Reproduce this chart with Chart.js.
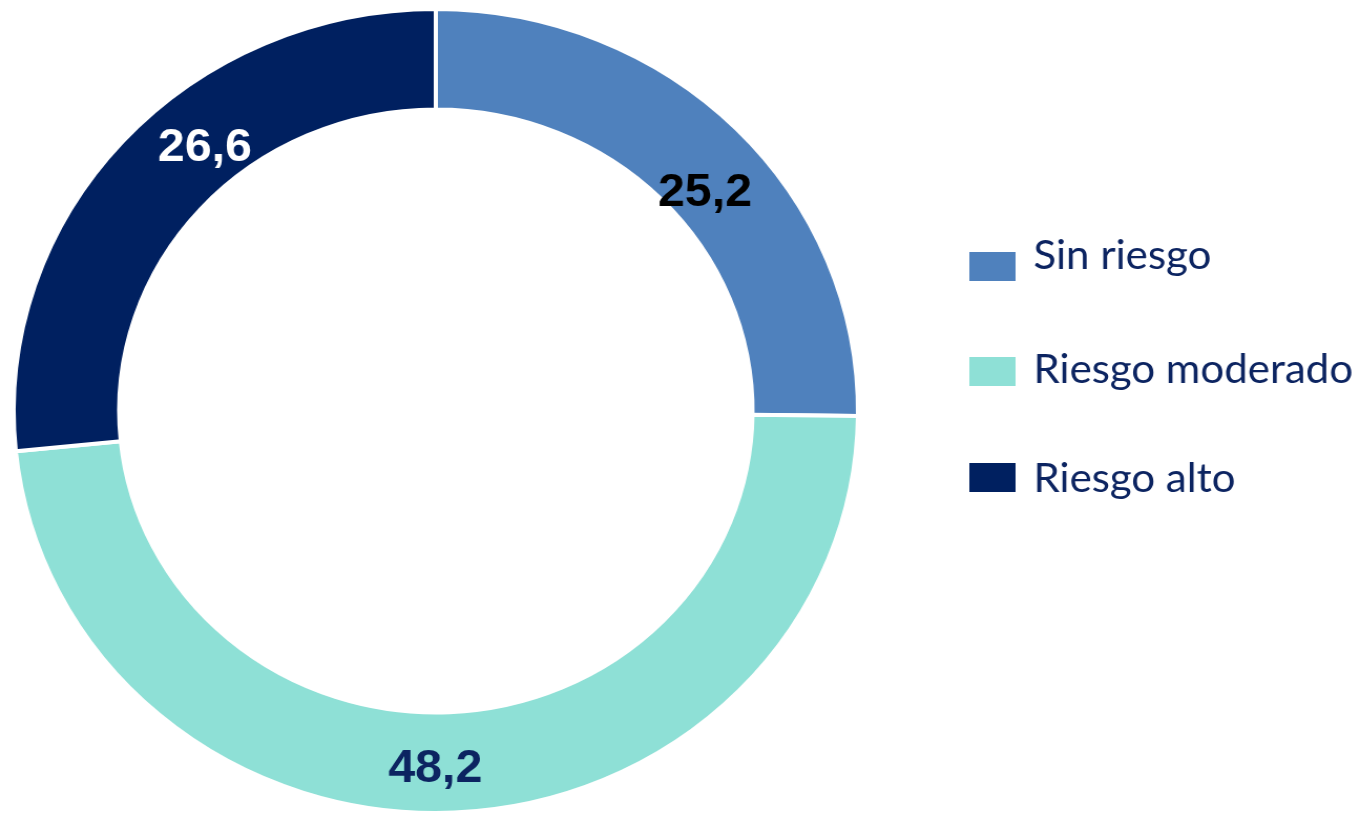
<!DOCTYPE html>
<html>
<head>
<meta charset="utf-8">
<script src="https://cdn.jsdelivr.net/npm/chart.js@4.4.1/dist/chart.umd.min.js"></script>
<style>
    html, body { margin: 0; padding: 0; background: #ffffff; overflow: hidden; }
    #wrap { width: 1295px; height: 816px; transform: scaleX(1.0502); transform-origin: 0 0; }
</style>
</head>
<body>
<div id="wrap"><canvas id="donut" width="1295" height="816"></canvas></div>
<script>
const categories = ["Sin riesgo", "Riesgo moderado", "Riesgo alto"];
const values = [25.2, 48.2, 26.6];
const colors = ["#4f81bd", "#8ee0d6", "#002060"];
const labelColors = ["#000000", "#0c2461", "#ffffff"];

// small nudges so the value labels sit where they do in the picture
const labelShift = [[6, 29], [-16, 7], [41, -27]];

const valueLabels = {
    id: "valueLabels",
    afterDatasetsDraw(chart) {
        const ctx = chart.ctx;
        const meta = chart.getDatasetMeta(0);
        ctx.save();
        ctx.font = "bold 46px 'Liberation Sans', Arial, sans-serif";
        ctx.textAlign = "center";
        ctx.textBaseline = "middle";
        meta.data.forEach((arc, i) => {
            const p = arc.tooltipPosition();
            ctx.fillStyle = labelColors[i];
            ctx.fillText(values[i].toFixed(1).replace(".", ","), p.x + labelShift[i][0], p.y + labelShift[i][1]);
        });
        ctx.restore();
    },
};

// legend rows: box top and text baseline
const legendBoxTop = [252, 357, 463];
const legendBaseline = [269, 383, 492];

const sideLegend = {
    id: "sideLegend",
    afterDraw(chart) {
        const ctx = chart.ctx;
        ctx.save();
        ctx.font = "40px Lato, 'Open Sans', sans-serif";
        ctx.textAlign = "left";
        ctx.textBaseline = "alphabetic";
        categories.forEach((name, i) => {
            ctx.fillStyle = colors[i];
            ctx.fillRect(923, legendBoxTop[i], 44, 29);
            ctx.fillStyle = "#0c2461";
            ctx.fillText(name, 984, legendBaseline[i]);
        });
        ctx.restore();
    },
};

new Chart(document.getElementById("donut"), {
    type: "doughnut",
    data: {
        labels: categories,
        datasets: [
            {
                data: values,
                backgroundColor: colors,
                borderColor: "#ffffff",
                borderWidth: 4,
                hoverOffset: 0,
            },
        ],
    },
    options: {
        responsive: false,
        animation: false,
        cutout: "75%",
        layout: {
            padding: { left: 11, top: 7, right: 476, bottom: 1 },
        },
        plugins: {
            legend: { display: false },
            tooltip: { enabled: false },
        },
    },
    plugins: [valueLabels, sideLegend],
});
</script>
</body>
</html>
